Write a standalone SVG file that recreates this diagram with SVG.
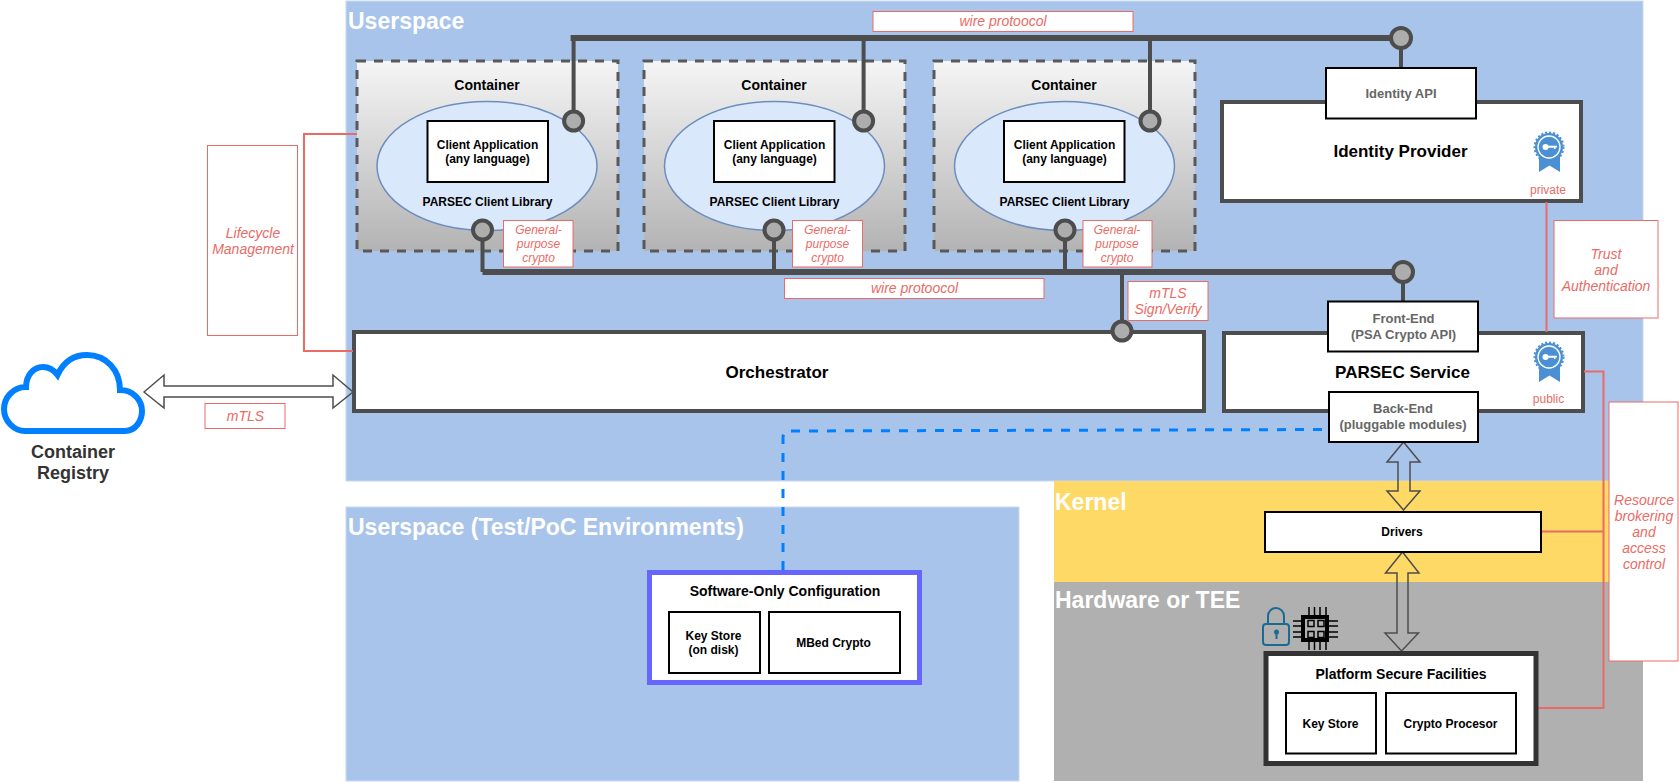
<svg xmlns="http://www.w3.org/2000/svg" xmlns:xlink="http://www.w3.org/1999/xlink" width="1679" height="782" viewBox="0 0 1679 782">
<style>
text{font-family:"Liberation Sans",Arial,sans-serif;text-anchor:middle;fill:#000;font-weight:bold}
.region{stroke:#c9d9f1;stroke-width:1}
.title{fill:#fff;font-size:23px;text-anchor:start}
.ctr{fill:url(#cg);stroke:#595959;stroke-width:3;stroke-dasharray:9 8}
.ell{fill:#dae8fc;stroke:#6c8ebf;stroke-width:1.5}
.box{fill:#fff;stroke:#000;stroke-width:2}
.thick{fill:#fff;stroke:#4d4d4d;stroke-width:4}
.lab{fill:#fff;stroke:#ea6b66;stroke-width:1}
.r{fill:#ea6b66;font-weight:normal;font-style:italic;font-size:14px}
.g{fill:#ea6b66;font-weight:normal;font-style:italic;font-size:12px}
.k{fill:#ea6b66;font-weight:normal;font-size:12px}
.gray{fill:#666;font-size:13px}
.s12{font-size:12px}.s14{font-size:14px}.s17{font-size:17px}
.bus{fill:none;stroke:#4d4d4d;stroke-width:6}
.stem{fill:none;stroke:#4d4d4d;stroke-width:4}
.dot{fill:#adadad;stroke:#4d4d4d;stroke-width:4}
.rl{fill:none;stroke:#ea6b66;stroke-width:2}
.da{fill:none;stroke:#4d4d4d;stroke-width:1.5}
</style>
<defs>
<linearGradient id="cg" x1="0" y1="0" x2="0" y2="1"><stop offset="0" stop-color="#f5f5f5"/><stop offset="1" stop-color="#b3b3b3"/></linearGradient>
<g id="badge">
<path d="M1539 155V172L1549.500 165.500L1560 172V155Z" fill="#4a90d2"/>
<circle cx="1549" cy="147" r="14" fill="#4a90d2"/>
<circle cx="1549" cy="147" r="14.500" fill="none" stroke="#4a90d2" stroke-width="2" stroke-dasharray="2 2"/>
<circle cx="1549" cy="147" r="11" fill="none" stroke="#fff" stroke-width="1.300"/>
<circle cx="1545.500" cy="147" r="3" fill="#fff"/>
<path d="M1547 145.800H1557V147.500H1555.500V149H1554V147.800H1547Z" fill="#fff"/>
</g>
</defs>
<g id="regions">
<rect id="userspace" class="region" x="346" y="1" width="1297" height="480" fill="#a9c4eb"/>
<rect id="test-env" class="region" x="346" y="507" width="673" height="274" fill="#a9c4eb"/>
<rect id="kernel" x="1054" y="481" width="589" height="101" fill="#ffd966"/>
<rect id="hardware" x="1054" y="582" width="589" height="199" fill="#b0b0b0"/>
<text class="title" x="348" y="29">Userspace</text>
<text class="title" x="348" y="535">Userspace (Test/PoC Environments)</text>
<text class="title" x="1055" y="510">Kernel</text>
<text class="title" x="1055" y="608">Hardware or TEE</text>
</g>
<g id="container-1">
<rect class="ctr" x="357" y="61" width="261" height="190"/>
<text class="s14" x="487" y="90">Container</text>
<ellipse class="ell" cx="487" cy="166" rx="110" ry="64.500"/>
<rect class="box" x="427.500" y="121" width="120.500" height="61"/>
<text class="s12" x="487.500" y="149">Client Application</text><text class="s12" x="487.500" y="163">(any language)</text>
<text class="s12" x="487.500" y="206">PARSEC Client Library</text>
</g>
<g id="container-2">
<rect class="ctr" x="644" y="61" width="261" height="190"/>
<text class="s14" x="774" y="90">Container</text>
<ellipse class="ell" cx="774.500" cy="166" rx="110" ry="64.500"/>
<rect class="box" x="714" y="121" width="120.500" height="61"/>
<text class="s12" x="774.500" y="149">Client Application</text><text class="s12" x="774.500" y="163">(any language)</text>
<text class="s12" x="774.500" y="206">PARSEC Client Library</text>
</g>
<g id="container-3">
<rect class="ctr" x="934" y="61" width="261" height="190"/>
<text class="s14" x="1064" y="90">Container</text>
<ellipse class="ell" cx="1064.500" cy="166" rx="110" ry="64.500"/>
<rect class="box" x="1004" y="121" width="120.500" height="61"/>
<text class="s12" x="1064.500" y="149">Client Application</text><text class="s12" x="1064.500" y="163">(any language)</text>
<text class="s12" x="1064.500" y="206">PARSEC Client Library</text>
</g>
<g id="identity-provider">
<rect class="thick" x="1222" y="102" width="359" height="99"/>
<text class="s17" x="1400.500" y="157">Identity Provider</text>
<use xlink:href="#badge" href="#badge"/>
<text class="k" x="1548" y="194">private</text>
</g>
<g id="parsec-service">
<rect class="thick" x="1224" y="333" width="359" height="78"/>
<text class="s17" x="1402.500" y="378">PARSEC Service</text>
<use xlink:href="#badge" href="#badge" y="210"/>
<text class="k" x="1548.500" y="403">public</text>
</g>
<g id="orchestrator">
<rect class="thick" x="354" y="332" width="850" height="79"/>
<text class="s17" x="777" y="378">Orchestrator</text>
</g>
<g id="connectors">
<path class="stem" d="M573.600 38V121M863.600 38V121M1150 38V121M1401 38V68"/>
<path class="bus" d="M570.600 38H1401M482.500 272H1403"/>
<path class="stem" d="M482.500 230V272M774 230V272M1065 230V272M1122 272V331M1403 272V301"/>
<path class="rl" d="M357 134H304V351H353"/>
<path class="rl" d="M1546.500 202V332"/>
<path class="rl" d="M1584 371.500H1603.500V708H1536M1541 531.500H1603.500"/>
<path d="M1322 429.500L790 431Q783 431 783 438V572" fill="none" stroke="#007fff" stroke-width="3" stroke-dasharray="9 9"/>
<path class="da" d="M144 392L164 375V386H333V375L353 392L333 408V397H164V408Z"/>
<path class="da" d="M1403.500 442L1420 462H1410V491H1420L1403.500 510L1387 491H1398V462H1387Z"/>
<path class="da" d="M1402.500 552L1419 573H1408V633H1418.500L1401.500 651L1385 633H1397V573H1385.500Z"/>
<circle class="dot" cx="573.600" cy="121" r="9.500"/><circle class="dot" cx="863.600" cy="121" r="9.500"/><circle class="dot" cx="1150" cy="121" r="9.500"/>
<circle class="dot" cx="482.500" cy="230" r="9.500"/><circle class="dot" cx="774" cy="230" r="9.500"/><circle class="dot" cx="1065" cy="230" r="9.500"/>
<circle class="dot" cx="1401" cy="38" r="10"/><circle class="dot" cx="1403" cy="272" r="10"/><circle class="dot" cx="1122" cy="331" r="9.500"/>
</g>
<g id="identity-api">
<rect class="box" x="1326" y="68" width="150" height="50.500"/>
<text class="gray" x="1401" y="98">Identity API</text>
</g>
<g id="front-end">
<rect class="box" x="1328" y="301.500" width="150" height="50"/>
<text class="gray" x="1403.500" y="323">Front-End</text><text class="gray" x="1403.500" y="339">(PSA Crypto API)</text>
</g>
<g id="back-end">
<rect class="box" x="1329" y="392" width="149" height="50"/>
<text class="gray" x="1403" y="413">Back-End</text><text class="gray" x="1403" y="429">(pluggable modules)</text>
</g>
<g id="drivers">
<rect class="box" x="1265" y="512" width="276" height="40"/>
<text class="s12" x="1402" y="536">Drivers</text>
</g>
<g id="platform-secure-facilities">
<rect x="1266" y="653.500" width="270" height="110" fill="#fff" stroke="#333" stroke-width="5"/>
<text class="s14" x="1401" y="679">Platform Secure Facilities</text>
<rect class="box" x="1286" y="693" width="90" height="60.500"/>
<text class="s12" x="1330.500" y="728">Key Store</text>
<rect class="box" x="1386" y="693" width="130" height="60.500"/>
<text class="s12" x="1450.500" y="728">Crypto Procesor</text>
</g>
<g id="software-only">
<rect x="649.500" y="572.500" width="270" height="110" fill="#fff" stroke="#6666ff" stroke-width="5"/>
<text class="s14" x="785" y="596">Software-Only Configuration</text>
<rect class="box" x="669" y="612" width="91" height="61"/>
<text class="s12" x="713.500" y="640">Key Store</text><text class="s12" x="713.500" y="654">(on disk)</text>
<rect class="box" x="769" y="612" width="131" height="61"/>
<text class="s12" x="833.500" y="647">MBed Crypto</text>
</g>
<g id="container-registry">
<path d="M25 431H125C136 431 142 420 142 411C142 400 133 390 120 390C120 370 106 355 87 355C73 355 63 363 57.500 375C53 369 49 367 43 367C33 367 26 376 26 387C13 387 4 398 4 409C4 421 14 431 25 431Z" fill="#fff" stroke="#007fff" stroke-width="6"/>
<text x="73" y="458" style="font-size:18px;fill:#333">Container</text>
<text x="73" y="479" style="font-size:18px;fill:#333">Registry</text>
</g>
<g id="icons">
<rect x="1263" y="624" width="26" height="21" rx="3" fill="none" stroke="#1a6a94" stroke-width="2"/>
<path d="M1268 624V616A8 8 0 0 1 1284 616V624" fill="none" stroke="#1a6a94" stroke-width="2"/>
<circle cx="1276.500" cy="632" r="2.500" fill="#1a6a94"/><path d="M1276.500 632V639" stroke="#1a6a94" stroke-width="2"/>
<rect x="1303" y="617" width="24" height="23" fill="none" stroke="#000" stroke-width="4"/>
<rect x="1308" y="620.500" width="6" height="6" fill="none" stroke="#000" stroke-width="1.500"/>
<rect x="1318" y="620.500" width="6" height="6" fill="none" stroke="#000" stroke-width="1.500"/>
<rect x="1308" y="631.500" width="6" height="6" fill="none" stroke="#000" stroke-width="1.500"/>
<rect x="1318" y="631.500" width="6" height="6" fill="none" stroke="#000" stroke-width="1.500"/>
<path d="M1309 607V615M1314.500 607V615M1320 607V615M1326 607V615M1309 642V650M1314.500 642V650M1320 642V650M1326 642V650M1293 621H1301M1293 626H1301M1293 632H1301M1293 637H1301M1329 621H1338M1329 626H1338M1329 632H1338M1329 637H1338" stroke="#000" stroke-width="1.500"/>
</g>
<g id="labels">
<g id="label-wire-top"><rect class="lab" x="873" y="11.500" width="260" height="20"/><text class="r" x="1003" y="26">wire protoocol</text></g>
<g id="label-wire-bottom"><rect class="lab" x="784.500" y="278.500" width="259.500" height="20"/><text class="r" x="914.500" y="293">wire protoocol</text></g>
<g id="label-crypto-1"><rect class="lab" x="503.500" y="220.500" width="69.500" height="46.500"/><text class="g" x="538.500" y="234">General-</text><text class="g" x="538.500" y="248">purpose</text><text class="g" x="538.500" y="262">crypto</text></g>
<g id="label-crypto-2"><rect class="lab" x="792.500" y="220.500" width="70" height="46.500"/><text class="g" x="827.500" y="234">General-</text><text class="g" x="827.500" y="248">purpose</text><text class="g" x="827.500" y="262">crypto</text></g>
<g id="label-crypto-3"><rect class="lab" x="1083" y="220.500" width="69" height="46.500"/><text class="g" x="1117" y="234">General-</text><text class="g" x="1117" y="248">purpose</text><text class="g" x="1117" y="262">crypto</text></g>
<g id="label-mtls-sign"><rect class="lab" x="1128" y="281.500" width="80" height="39"/><text class="r" x="1168" y="298">mTLS</text><text class="r" x="1168" y="314">Sign/Verify</text></g>
<g id="label-trust"><rect class="lab" x="1554" y="220.500" width="104" height="97.500"/><text class="r" x="1606" y="259">Trust</text><text class="r" x="1606" y="275">and</text><text class="r" x="1606" y="291">Authentication</text></g>
<g id="label-resource"><rect class="lab" x="1609" y="402" width="69" height="259"/><text class="r" x="1644" y="505">Resource</text><text class="r" x="1644" y="521">brokering</text><text class="r" x="1644" y="537">and</text><text class="r" x="1644" y="553">access</text><text class="r" x="1644" y="569">control</text></g>
<g id="label-lifecycle"><rect class="lab" x="207.500" y="145.500" width="90" height="190"/><text class="r" x="253" y="238">Lifecycle</text><text class="r" x="253" y="254">Management</text></g>
<g id="label-mtls"><rect class="lab" x="205" y="403.500" width="80" height="25"/><text class="r" x="245.500" y="421">mTLS</text></g>
</g>
</svg>
